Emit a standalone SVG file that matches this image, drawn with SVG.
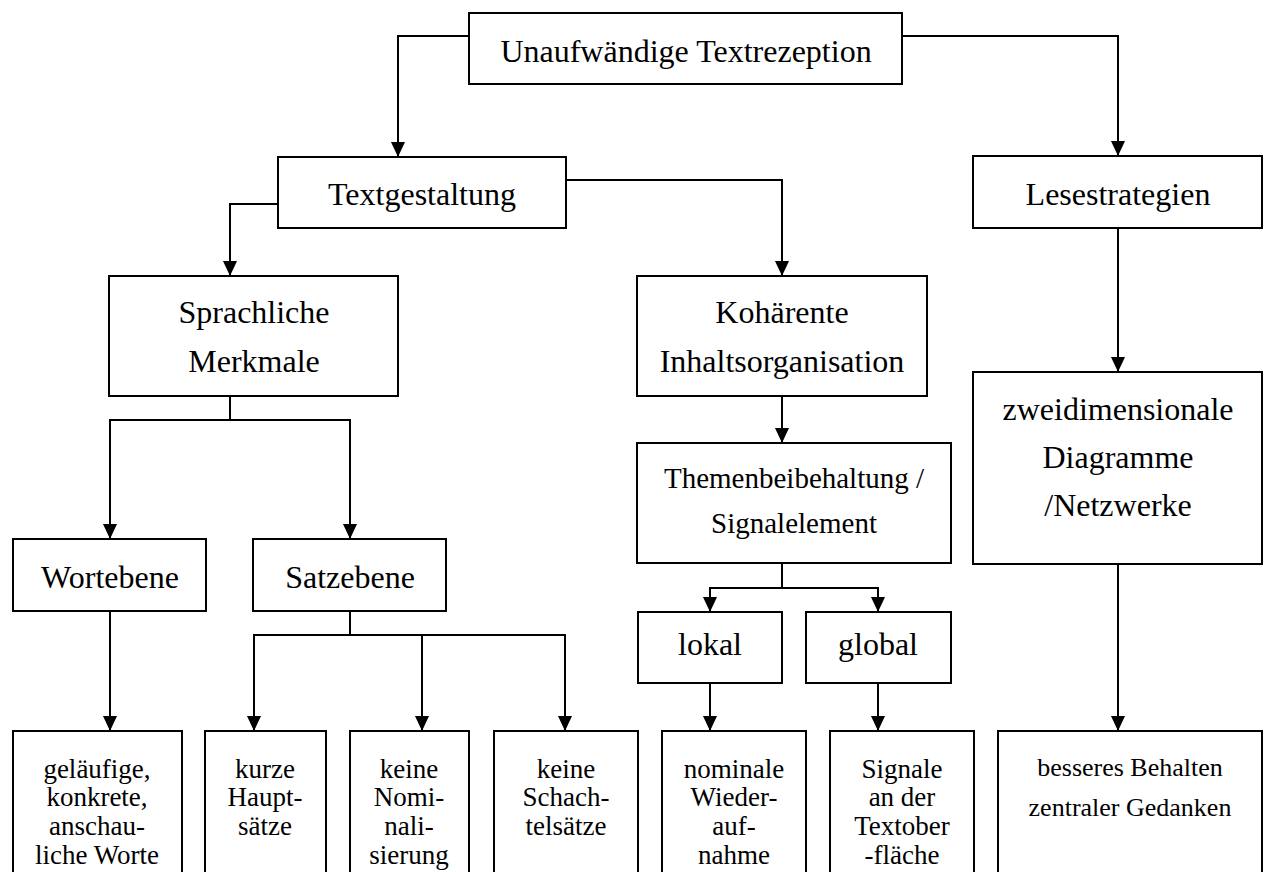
<svg xmlns="http://www.w3.org/2000/svg" width="1264" height="872" viewBox="0 0 1264 872">
<style>
.b{fill:#fff;stroke:#000;stroke-width:2}
.c{fill:none;stroke:#000;stroke-width:2}
text{font-family:"Liberation Serif","Times New Roman",serif;fill:#000;text-anchor:middle}
.L{font-size:32px}
.M{font-size:29px}
.S{font-size:27px}
.R{font-size:26px}
</style>
<defs>
<marker id="ah" markerUnits="userSpaceOnUse" markerWidth="15" markerHeight="14" refX="15" refY="7" orient="auto">
<path d="M0,0 L15,7 L0,14 z" fill="#000"/>
</marker>
</defs>
<rect width="1264" height="872" fill="#fff"/>
<g id="connectors">
<path class="c" d="M469,36 H398 V157" marker-end="url(#ah)"/>
<path class="c" d="M902,36 H1118 V156" marker-end="url(#ah)"/>
<path class="c" d="M278,204 H230 V276" marker-end="url(#ah)"/>
<path class="c" d="M566,180 H782 V276" marker-end="url(#ah)"/>
<path class="c" d="M782,396 V443" marker-end="url(#ah)"/>
<path class="c" d="M1118,228 V372" marker-end="url(#ah)"/>
<path class="c" d="M230,396 V420"/>
<path class="c" d="M230,420 H110 V539" marker-end="url(#ah)"/>
<path class="c" d="M230,420 H350 V539" marker-end="url(#ah)"/>
<path class="c" d="M110,611 V731" marker-end="url(#ah)"/>
<path class="c" d="M350,611 V635"/>
<path class="c" d="M350,635 H254 V731" marker-end="url(#ah)"/>
<path class="c" d="M350,635 H422 V731" marker-end="url(#ah)"/>
<path class="c" d="M350,635 H565 V731" marker-end="url(#ah)"/>
<path class="c" d="M782,563 V588"/>
<path class="c" d="M782,588 H710 V612" marker-end="url(#ah)"/>
<path class="c" d="M782,588 H878 V612" marker-end="url(#ah)"/>
<path class="c" d="M710,683 V731" marker-end="url(#ah)"/>
<path class="c" d="M878,683 V731" marker-end="url(#ah)"/>
<path class="c" d="M1118,564 V731" marker-end="url(#ah)"/>
</g>
<g id="n-top"><rect class="b" x="469" y="13" width="433" height="71"/><text class="L" x="686" y="62">Unaufwändige Textrezeption</text></g>
<g id="n-textgestaltung"><rect class="b" x="278" y="157" width="288" height="71"/><text class="L" x="422" y="205">Textgestaltung</text></g>
<g id="n-lesestrategien"><rect class="b" x="973" y="156" width="289" height="72"/><text class="L" x="1118" y="205">Lesestrategien</text></g>
<g id="n-sprachliche"><rect class="b" x="109" y="276" width="289" height="120"/><text class="L" x="254" y="323">Sprachliche</text><text class="L" x="254" y="372">Merkmale</text></g>
<g id="n-kohaerente"><rect class="b" x="637" y="276" width="290" height="120"/><text class="L" x="782" y="323">Kohärente</text><text class="L" x="782" y="372">Inhaltsorganisation</text></g>
<g id="n-zweidim"><rect class="b" x="973" y="372" width="289" height="192"/><text class="L" x="1118" y="420">zweidimensionale</text><text class="L" x="1118" y="468">Diagramme</text><text class="L" x="1118" y="516">/Netzwerke</text></g>
<g id="n-themen"><rect class="b" x="637" y="443" width="314" height="120"/><text class="M" x="794" y="488">Themenbeibehaltung /</text><text class="M" x="794" y="533">Signalelement</text></g>
<g id="n-wortebene"><rect class="b" x="13" y="539" width="193" height="72"/><text class="L" x="110" y="588">Wortebene</text></g>
<g id="n-satzebene"><rect class="b" x="253" y="539" width="193" height="72"/><text class="L" x="350" y="588">Satzebene</text></g>
<g id="n-lokal"><rect class="b" x="638" y="612" width="144" height="71"/><text class="L" x="710" y="655">lokal</text></g>
<g id="n-global"><rect class="b" x="806" y="612" width="145" height="71"/><text class="L" x="878" y="655">global</text></g>
<g id="n-gelaeufige"><rect class="b" x="13" y="731" width="169" height="150"/><text class="S" x="97" y="778">geläufige,</text><text class="S" x="97" y="806">konkrete,</text><text class="S" x="97" y="835">anschau-</text><text class="S" x="97" y="864">liche Worte</text></g>
<g id="n-kurze"><rect class="b" x="205" y="731" width="121" height="150"/><text class="S" x="265" y="778">kurze</text><text class="S" x="265" y="806">Haupt-</text><text class="S" x="265" y="835">sätze</text></g>
<g id="n-nominal"><rect class="b" x="350" y="731" width="119" height="150"/><text class="S" x="409" y="778">keine</text><text class="S" x="409" y="806">Nomi-</text><text class="S" x="409" y="835">nali-</text><text class="S" x="409" y="864">sierung</text></g>
<g id="n-schachtel"><rect class="b" x="494" y="731" width="144" height="150"/><text class="S" x="566" y="778">keine</text><text class="S" x="566" y="806">Schach-</text><text class="S" x="566" y="835">telsätze</text></g>
<g id="n-nominale"><rect class="b" x="662" y="731" width="144" height="150"/><text class="S" x="734" y="778">nominale</text><text class="S" x="734" y="806">Wieder-</text><text class="S" x="734" y="835">auf-</text><text class="S" x="734" y="864">nahme</text></g>
<g id="n-signale"><rect class="b" x="830" y="731" width="144" height="150"/><text class="S" x="902" y="778">Signale</text><text class="S" x="902" y="806">an der</text><text class="S" x="902" y="835">Textober</text><text class="S" x="902" y="864">-fläche</text></g>
<g id="n-besseres"><rect class="b" x="998" y="731" width="264" height="150"/><text class="R" x="1130" y="776">besseres Behalten</text><text class="R" x="1130" y="816">zentraler Gedanken</text></g>
</svg>
